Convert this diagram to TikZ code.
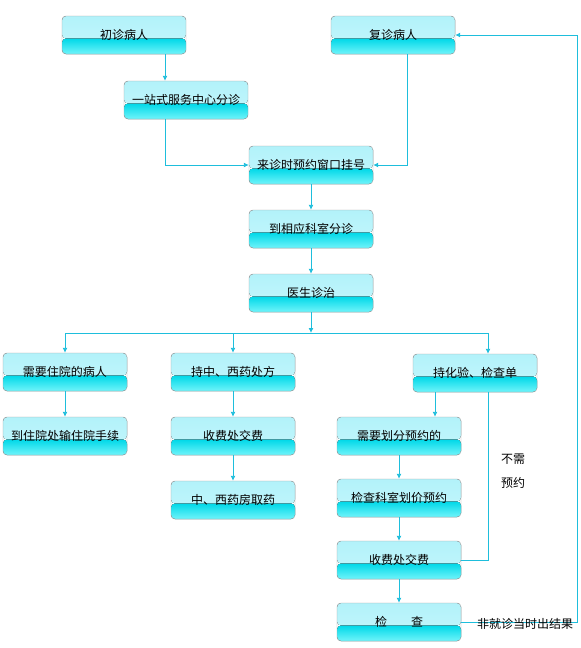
\documentclass[tikz,border=0pt]{standalone}
\usepackage{fontspec}
\newfontfamily\cjk{Noto Sans CJK SC}
\usetikzlibrary{arrows.meta}
\definecolor{boxtop}{HTML}{B2F2FA}
\definecolor{boxmid}{HTML}{C6F7FC}
\definecolor{boxlow}{HTML}{00D8E8}
\definecolor{boxbot}{HTML}{70F4FA}
\definecolor{linecol}{HTML}{1EBEDC}
\begin{document}
\begin{tikzpicture}[x=1pt,y=-1pt,node distance=64pt,
        step box/.style={draw=gray!75,rounded corners=4pt,minimum width=124pt,
            minimum height=38pt,inner sep=0pt,font=\cjk\fontsize{12}{14}\selectfont,
            path picture={
                \fill[top color=boxtop,bottom color=boxmid]
                    (path picture bounding box.north west) rectangle ([yshift=-3.5pt]path picture bounding box.east);
                \fill[top color=boxlow,bottom color=boxbot]
                    ([yshift=-3.5pt]path picture bounding box.west) rectangle (path picture bounding box.south east);
            }},
        note/.style={font=\cjk\fontsize{12}{24}\selectfont,inner sep=0pt},
        flow/.style={draw=linecol,line width=0.9pt},
        arr/.style={flow,-{Latex[length=5pt,width=5pt]}}]

        \useasboundingbox (0,0) rectangle (581,648);

        \node[step box] (first)    at (124,35)  {初诊病人};
        \node[step box] (revisit)  at (393,35)  {复诊病人};
        \node[step box] (triage)   at (186,100) {一站式服务中心分诊};
        \node[step box] (register) at (311,165) {来诊时预约窗口挂号};
        \node[step box] (dept)   [below of=register] {到相应科室分诊};
        \node[step box] (doctor) [below of=dept]     {医生诊治};

        \node[step box] (inpat) at (65,372)  {需要住院的病人};
        \node[step box] (admit) [below of=inpat] {到住院处输住院手续};

        \node[step box] (rx)   at (233,372) {持中、西药处方};
        \node[step box] (pay1) [below of=rx]   {收费处交费};
        \node[step box] (drug) [below of=pay1] {中、西药房取药};

        \node[step box] (exam)  at (475,373) {持化验、检查单};
        \node[step box] (appt)  at (399,436) {需要划分预约的};
        \node[step box] (price) [below of=appt,node distance=62pt]  {检查科室划价预约};
        \node[step box] (pay2)  [below of=price,node distance=62pt] {收费处交费};
        \node[step box] (check) [below of=pay2,node distance=62pt]  {检　　查};

        \coordinate (t1)    at (165,0);
        \coordinate (t2)    at (407,0);
        \coordinate (split) at (311,333);
        \coordinate (t3)    at (488,0);
        \coordinate (t4)    at (435,0);
        \coordinate (back)  at (577,35);

        % top part
        \draw[arr] (first.south -| t1) -- (triage.north -| t1);
        \draw[arr] (triage.south -| t1) |- (register.west);
        \draw[arr] (revisit.south -| t2) |- (register.east);
        \draw[arr] (register) -- (dept);
        \draw[arr] (dept) -- (doctor);
        \draw[arr] (doctor) -- (split);

        % branches
        \draw[flow] (split -| inpat) -- (split -| t3);
        \draw[arr] (split -| inpat) -- (inpat);
        \draw[arr] (split -| rx) -- (rx);
        \draw[arr] (split -| t3) -- (exam.north -| t3);

        \draw[arr] (inpat) -- (admit);
        \draw[arr] (rx) -- (pay1);
        \draw[arr] (pay1) -- (drug);

        \draw[arr] (exam.south -| t4) -- (appt.north -| t4);
        \draw[arr] (appt) -- (price);
        \draw[arr] (price) -- (pay2);
        \draw[arr] (pay2) -- (check);
        \draw[flow] (exam.south -| t3) |- (pay2.east);
        \draw[arr] (check.east) -| (back) -- (revisit.east);

        \node[note,align=left] (noappt) at (513,471) {不需\\预约};
        \node[note] (later) at (525,624) {非就诊当时出结果};
\end{tikzpicture}
\end{document}
